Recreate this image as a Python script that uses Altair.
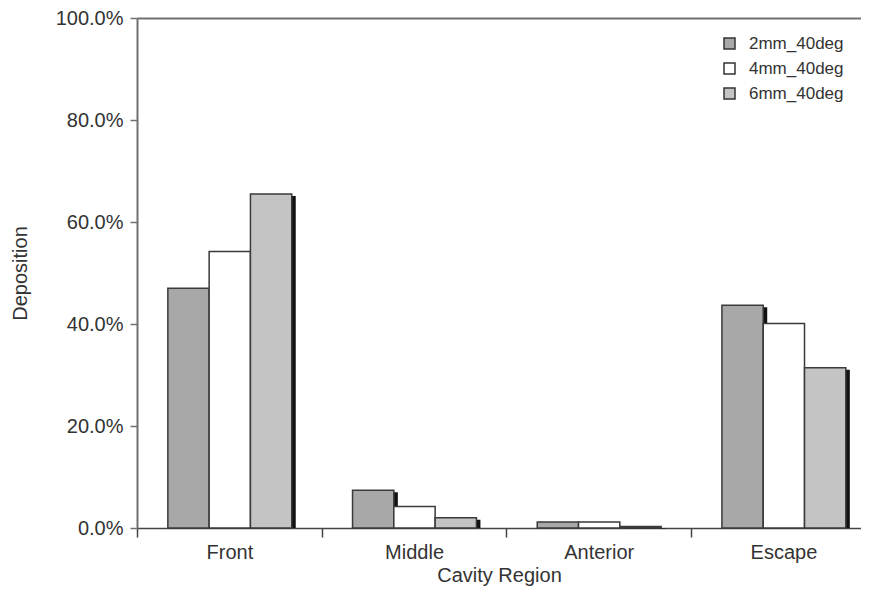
import altair as alt
import pandas as pd

# ---- data ----
categories = ["Front", "Middle", "Anterior", "Escape"]
series = ["2mm_40deg", "4mm_40deg", "6mm_40deg"]
dep_2mm = [0.470, 0.074, 0.012, 0.437]
dep_4mm = [0.542, 0.042, 0.012, 0.401]
dep_6mm = [0.655, 0.020, 0.003, 0.314]
y_ticks = [0.0, 0.2, 0.4, 0.6, 0.8, 1.0]

# ---- styles ----
fills = ["#a8a8a8", "#ffffff", "#c4c4c4"]
FONT = "Liberation Sans"
TEXT = "#333333"
AXIS = "#707070"

rows = []
for ci, cat in enumerate(categories):
    for si, (name, vals) in enumerate(zip(series, [dep_2mm, dep_4mm, dep_6mm])):
        rows.append({"Category": cat, "ci": ci, "si": si, "Series": name,
                     "Deposition": vals[ci]})
df = pd.DataFrame(rows)

lead = 0.167   # gap before first bar in a category band (band units)
bw = 0.2236    # bar width (band units)

base = alt.Chart(df).transform_calculate(
    x0=f"datum.ci + {lead} + datum.si * {bw}",
    x1=f"datum.ci + {lead} + (datum.si + 1) * {bw}",
)

xscale = alt.Scale(domain=[0, 3.92], nice=False, zero=False)
yscale = alt.Scale(domain=[0, 1], nice=False)

x_vals = [i * 0.5 for i in range(2 * len(categories))]
label_list = "[" + ",".join("'" + c + "'" for c in categories) + "]"

xaxis = alt.Axis(
    values=x_vals,
    title="Cavity Region",
    labelExpr=f"datum.value % 1 === 0 ? '' : {label_list}[floor(datum.value)]",
    tickOpacity={"condition": {"test": "datum.value % 1 === 0", "value": 1}, "value": 0},
    tickSize=9,
    tickColor="#444444",
    tickWidth=1.5,
    domainColor="#444444",
    domainWidth=1.5,
    labelOverlap=False,
    labelFlush=False,
    labelBound=False,
    labelPadding=5,
    labelFontSize=20,
    labelColor=TEXT,
    labelFont=FONT,
    titleFontSize=20,
    titleFontWeight="normal",
    titleColor=TEXT,
    titleFont=FONT,
    titlePadding=3,
    grid=False,
)

yaxis = alt.Axis(
    values=y_ticks,
    format=".1%",
    title="Deposition",
    tickSize=7,
    tickColor=AXIS,
    tickWidth=1.5,
    domainColor=AXIS,
    domainWidth=2,
    grid=True,
    gridColor=AXIS,
    gridWidth=2,
    gridOpacity={"condition": {"test": "datum.value === 1", "value": 1}, "value": 0},
    labelFontSize=20,
    labelColor=TEXT,
    labelFont=FONT,
    labelPadding=7,
    titleFontSize=20,
    titleFontWeight="normal",
    titleColor=TEXT,
    titleFont=FONT,
    titlePadding=25,
)

shadow = base.transform_filter(alt.datum.si != 1).mark_bar(
    color="#111111", xOffset=4, x2Offset=4, yOffset=2
).encode(
    x=alt.X("x0:Q", scale=xscale, axis=xaxis),
    x2="x1:Q",
    y=alt.Y("Deposition:Q", scale=yscale, axis=yaxis),
    y2=alt.Y2(datum=0),
)

bars = base.mark_bar(stroke="#3a3a3a", strokeWidth=1.5, opacity=1).encode(
    x=alt.X("x0:Q", scale=xscale, axis=xaxis),
    x2="x1:Q",
    y=alt.Y("Deposition:Q", scale=yscale, axis=yaxis),
    y2=alt.Y2(datum=0),
    fill=alt.Fill(
        "Series:N",
        scale=alt.Scale(domain=series, range=fills),
        legend=alt.Legend(
            title=None,
            orient="none",
            legendX=584,
            legendY=17,
            symbolType="square",
            symbolSize=121,
            symbolStrokeColor="#333333",
            symbolStrokeWidth=1.5,
            symbolOpacity=1,
            labelFontSize=17,
            labelFont=FONT,
            labelColor=TEXT,
            labelOffset=11,
            rowPadding=7,
            padding=0,
        ),
    ),
)

chart = alt.layer(shadow, bars).properties(
    width=724,
    height=510,
    autosize=alt.AutoSizeParams(type="none"),
    padding={"left": 129, "top": 10, "right": 0, "bottom": 58},
).configure_view(stroke=None).configure(font=FONT)

chart.save("out.html", embed_options={"renderer": "svg", "actions": False})
